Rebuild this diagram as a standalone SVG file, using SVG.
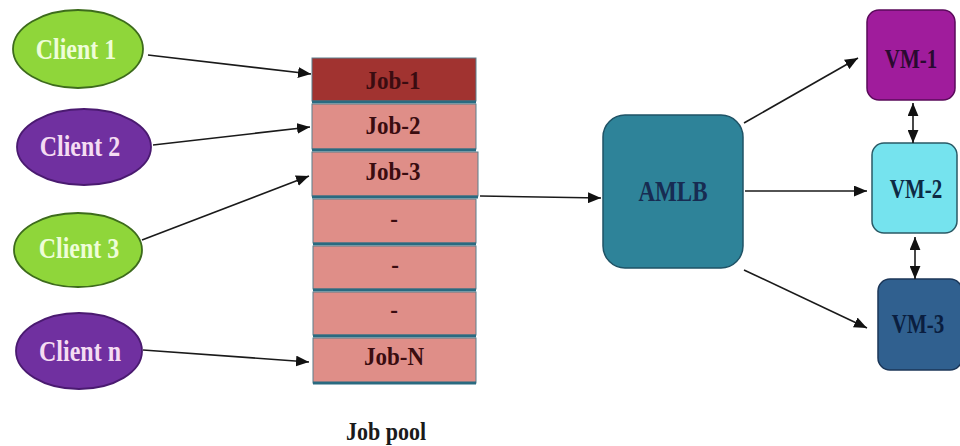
<svg xmlns="http://www.w3.org/2000/svg" width="960" height="446" viewBox="0 0 960 446">
  <defs>
    <marker id="arrow" viewBox="0 0 12 10" refX="12" refY="5" markerWidth="13" markerHeight="11" markerUnits="userSpaceOnUse" orient="auto-start-reverse">
      <path d="M0,0 L12,5 L0,10 Z" fill="#111"/>
    </marker>
    <style>
      .lbl { font-family: "Liberation Serif", "Times New Roman", serif; font-weight: bold; text-anchor: middle; }
      .client { font-size: 24px; }
      .job { font-size: 23px; fill: #3a0c10; }
      .row { stroke: #5a7f8c; stroke-width: 1; }
      .sep { stroke: #2a6a80; stroke-width: 3; }
      .edge { stroke: #1a1a1a; stroke-width: 1.6; fill: none; marker-end: url(#arrow); }
      .both { marker-start: url(#arrow); }
    </style>
  </defs>
  <rect width="960" height="446" fill="#ffffff"/>

  <!-- clients -->
  <g id="client1">
    <ellipse cx="78" cy="49" rx="65" ry="39" fill="#8fd63a" stroke="#3d6b1c" stroke-width="1.8"/>
    <text class="lbl client" fill="#eefdd8" transform="translate(76,59) scale(1,1.2)">Client 1</text>
  </g>
  <g id="client2">
    <ellipse cx="84" cy="147" rx="67" ry="38" fill="#7030a0" stroke="#4a1a70" stroke-width="1.8"/>
    <text class="lbl client" fill="#f4dcf2" transform="translate(80,156) scale(1,1.2)">Client 2</text>
  </g>
  <g id="client3">
    <ellipse cx="78" cy="250" rx="64" ry="37" fill="#8fd63a" stroke="#3d6b1c" stroke-width="1.8"/>
    <text class="lbl client" fill="#eefdd8" transform="translate(79,258) scale(1,1.2)">Client 3</text>
  </g>
  <g id="clientn">
    <ellipse cx="79" cy="351" rx="63" ry="38" fill="#7030a0" stroke="#4a1a70" stroke-width="1.8"/>
    <text class="lbl client" fill="#f4dcf2" transform="translate(80,361) scale(1,1.2)">Client n</text>
  </g>

  <!-- job pool -->
  <g id="jobpool">
    <rect class="row" x="312" y="58" width="164" height="43" fill="#a13330"/>
    <line class="sep" x1="312" y1="102" x2="476" y2="102"/>
    <text class="lbl job" transform="translate(393,89) scale(1,1.1)">Job-1</text>

    <rect class="row" x="312" y="104" width="164" height="45" fill="#df8e88"/>
    <line class="sep" x1="312" y1="150" x2="476" y2="150"/>
    <text class="lbl job" transform="translate(393,134) scale(1,1.1)">Job-2</text>

    <rect class="row" x="312" y="152" width="166" height="44" fill="#df8e88"/>
    <line class="sep" x1="312" y1="197" x2="478" y2="197"/>
    <text class="lbl job" transform="translate(393,180) scale(1,1.1)">Job-3</text>

    <rect class="row" x="313" y="199" width="163" height="44" fill="#df8e88"/>
    <line class="sep" x1="313" y1="244" x2="476" y2="244"/>
    <text class="lbl job" transform="translate(394,227) scale(1,1.1)">-</text>

    <rect class="row" x="313" y="246" width="163" height="43" fill="#df8e88"/>
    <line class="sep" x1="313" y1="290" x2="476" y2="290"/>
    <text class="lbl job" transform="translate(395,273) scale(1,1.1)">-</text>

    <rect class="row" x="313" y="292" width="163" height="43" fill="#df8e88"/>
    <line class="sep" x1="313" y1="336" x2="476" y2="336"/>
    <text class="lbl job" transform="translate(394,318) scale(1,1.1)">-</text>

    <rect class="row" x="313" y="338" width="163" height="45" fill="#df8e88"/>
    <line class="sep" x1="313" y1="383" x2="476" y2="383"/>
    <text class="lbl job" transform="translate(394,365) scale(1,1.1)">Job-N</text>

    <text class="lbl" font-size="22" fill="#1a1a1a" transform="translate(386,440) scale(1,1.15)">Job pool</text>
  </g>

  <!-- load balancer -->
  <g id="amlb">
    <rect x="603" y="115" width="140" height="153" rx="22" fill="#2e8399" stroke="#1f5366" stroke-width="1.5"/>
    <text class="lbl" font-size="23" fill="#172c52" transform="translate(673,201) scale(1,1.25)">AMLB</text>
  </g>

  <!-- virtual machines -->
  <g id="vm1">
    <rect x="867" y="10" width="88" height="90" rx="12" fill="#a01c9c" stroke="#5a0a5a" stroke-width="1.5"/>
    <text class="lbl" font-size="21" fill="#2a0a30" transform="translate(911,68) scale(1,1.35)">VM-1</text>
  </g>
  <g id="vm2">
    <rect x="872" y="143" width="85" height="90" rx="12" fill="#75e3ee" stroke="#2a5a66" stroke-width="1.5"/>
    <text class="lbl" font-size="21" fill="#0d2a44" transform="translate(916,198) scale(1,1.35)">VM-2</text>
  </g>
  <g id="vm3">
    <rect x="878" y="279" width="84" height="91" rx="12" fill="#30608f" stroke="#1b3658" stroke-width="1.5"/>
    <text class="lbl" font-size="21" fill="#0a1e40" transform="translate(918,333) scale(1,1.35)">VM-3</text>
  </g>

  <!-- connectors -->
  <g id="connectors">
    <line class="edge" x1="148" y1="55" x2="311" y2="74"/>
    <line class="edge" x1="153" y1="145" x2="310" y2="127"/>
    <line class="edge" x1="142" y1="240" x2="309" y2="176"/>
    <line class="edge" x1="143" y1="350" x2="309" y2="362"/>
    <line class="edge" x1="480" y1="196" x2="601" y2="198"/>
    <line class="edge" x1="744" y1="123" x2="858" y2="58"/>
    <line class="edge" x1="745" y1="191" x2="867" y2="191"/>
    <line class="edge" x1="744" y1="270" x2="867" y2="328"/>
    <line class="edge both" x1="913" y1="103" x2="913" y2="143"/>
    <line class="edge both" x1="915" y1="237" x2="915" y2="279"/>
  </g>
</svg>
